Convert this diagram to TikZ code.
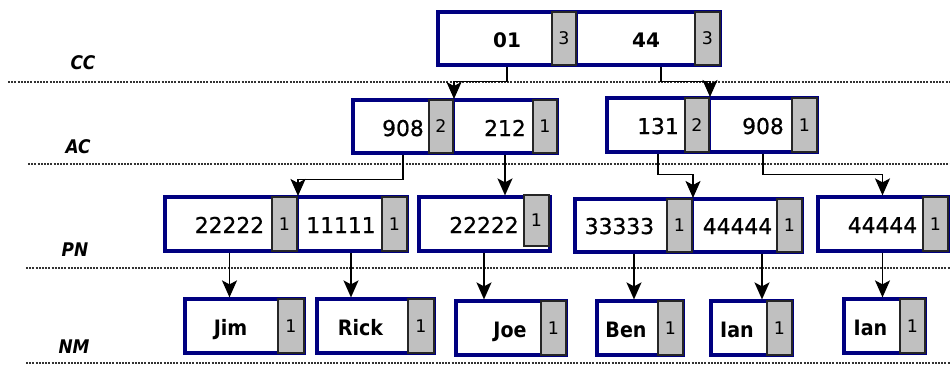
\documentclass[tikz,border=0pt]{standalone}
\usepackage{fontspec}
\usetikzlibrary{arrows.meta,fit}
\newfontfamily\dvs{DejaVu Sans}
\newfontfamily\dvsheavy{DejaVu Sans}[FakeBold=0.8]
\newfontfamily\cond{DejaVu Sans Condensed}
\definecolor{recblue}{RGB}{0,0,128}
\definecolor{cntgray}{RGB}{192,192,192}

\tikzset{
  rec/.style={draw=recblue, line width=1.6pt, fill=white, inner sep=0pt},
  cnt/.style={draw=black!85, fill=cntgray, line width=1pt, inner sep=0pt,
    label={[cntlabel]center:#1}},
  cntlabel/.style={inner sep=0pt, font=\dvs\fontsize{8.7}{10}\selectfont},
  val/.style={anchor=base, inner sep=0pt, font=\dvsheavy\fontsize{10.9}{12}\selectfont},
  topval/.style={anchor=base, inner sep=0pt, font=\dvs\bfseries\fontsize{10}{11}\selectfont},
  person/.style={anchor=base, inner sep=0pt, font=\cond\bfseries\fontsize{10.6}{12}\selectfont},
  lvl/.style={font=\cond\bfseries\itshape\fontsize{9.4}{10}\selectfont},
  level/.style={dash pattern=on 1pt off 0.6pt, line width=0.6pt, black!80},
  link/.style={->, line width=0.8pt}
}

\begin{document}
\begin{tikzpicture}[x=0.5pt, y=-0.5pt, >={Stealth[length=8.5pt,width=7.5pt,inset=2pt]}]
        \useasboundingbox (0,0) rectangle (950,365);

        % levels
        \draw[level] (8,82) -- (950,82);
        \draw[level] (28,164) -- (950,164);
        \draw[level] (26,268) -- (950,268);
        \draw[level] (26,363) -- (950,363);
        \node[lvl] (lcc) at (83,63) {CC};
        \node[lvl] (lac) at (78,147) {AC};
        \node[lvl] (lpn) at (75,250) {PN};
        \node[lvl] (lnm) at (74,347) {NM};

        % CC
        \node[rec, fit={(438,12) (576,65)}] (cc1) {};
        \node[rec, fit={(576,12) (720,65)}] (cc2) {};
        \node[cnt=3, fit={(552,12) (576,65)}] (cc1n) {};
        \node[cnt=3, fit={(695,12) (720,65)}] (cc2n) {};
        \node[topval] (cc1v) at (507,47) {01};
        \node[topval] (cc2v) at (646,47) {44};

        % AC
        \node[rec, fit={(353,100) (453,153)}] (ac1) {};
        \node[rec, fit={(453,100) (557,153)}] (ac2) {};
        \node[rec, fit={(607,98) (709,152)}] (ac3) {};
        \node[rec, fit={(709,98) (817,152)}] (ac4) {};
        \node[cnt=2, fit={(429,100) (453,153)}] (ac1n) {};
        \node[cnt=1, fit={(533,100) (557,153)}] (ac2n) {};
        \node[cnt=2, fit={(685,98) (709,152)}] (ac3n) {};
        \node[cnt=1, fit={(792,98) (817,152)}] (ac4n) {};
        \node[val] (ac1v) at (403,136) {908};
        \node[val] (ac2v) at (505,136) {212};
        \node[val] (ac3v) at (658,134) {131};
        \node[val] (ac4v) at (763,134) {908};

        % PN
        \node[rec, fit={(165,197) (297,251)}] (pn1) {};
        \node[rec, fit={(297,197) (407,251)}] (pn2) {};
        \node[rec, fit={(419,197) (550,251)}] (pn3) {};
        \node[rec, fit={(575,199) (692,252)}] (pn4) {};
        \node[rec, fit={(692,199) (802,252)}] (pn5) {};
        \node[rec, fit={(818,197) (948,251)}] (pn6) {};
        \node[cnt=1, fit={(272,197) (297,251)}] (pn1n) {};
        \node[cnt=1, fit={(382,197) (407,251)}] (pn2n) {};
        \node[cnt=1, fit={(524,195) (549,246)}] (pn3n) {};
        \node[cnt=1, fit={(667,199) (692,252)}] (pn4n) {};
        \node[cnt=1, fit={(777,199) (802,252)}] (pn5n) {};
        \node[cnt=1, fit={(923,197) (948,251)}] (pn6n) {};
        \node[val] (pn1v) at (229.5,233) {22222};
        \node[val] (pn2v) at (341,233) {11111};
        \node[val] (pn3v) at (484,233) {22222};
        \node[val] (pn4v) at (619.5,234) {33333};
        \node[val] (pn5v) at (737.5,234) {44444};
        \node[val] (pn6v) at (882.5,233) {44444};

        % NM
        \node[rec, fit={(185,299) (304,353)}] (nm1) {};
        \node[rec, fit={(317,299) (434,353)}] (nm2) {};
        \node[rec, fit={(456,301) (566,355)}] (nm3) {};
        \node[rec, fit={(597,301) (683,355)}] (nm4) {};
        \node[rec, fit={(711,301) (792,355)}] (nm5) {};
        \node[rec, fit={(844,299) (925,353)}] (nm6) {};
        \node[cnt=1, fit={(278,299) (304,353)}] (nm1n) {};
        \node[cnt=1, fit={(408,299) (434,353)}] (nm2n) {};
        \node[cnt=1, fit={(541,301) (566,355)}] (nm3n) {};
        \node[cnt=1, fit={(658,301) (683,355)}] (nm4n) {};
        \node[cnt=1, fit={(767,301) (792,355)}] (nm5n) {};
        \node[cnt=1, fit={(900,299) (925,353)}] (nm6n) {};
        \node[person] (nm1v) at (230.5,335) {Jim};
        \node[person] (nm2v) at (360.5,335) {Rick};
        \node[person] (nm3v) at (510,337) {Joe};
        \node[person] (nm4v) at (626,337) {Ben};
        \node[person] (nm5v) at (737,337) {Ian};
        \node[person] (nm6v) at (870.5,335) {Ian};

        % links
        \draw[link] (cc1.south -| cc1v) -- ++(0,15) -| (ac1n.north east);
        \draw[link] (cc2.south -| 661,0) -- ++(0,15) -| (ac3n.north east);
        \draw[link] (ac1.south -| ac1v) -- ++(0,25) -| (pn1n.north east);
        \draw[link] (ac2.south -| ac2v) -- (pn3.north -| ac2v);
        \draw[link] (ac3.south -| ac3v) -- ++(0,21) -| (pn4n.north east);
        \draw[link] (ac4.south -| ac4v) -- ++(0,21) -| (pn6.north -| pn6v);

        \draw[link] (pn1.south -| pn1v) -- (nm1.north -| pn1v);
        \draw[link] (pn2.south -| 351,0) -- (nm2.north -| 351,0);
        \draw[link] (pn3.south -| pn3v) -- (nm3.north -| pn3v);
        \draw[link] (pn4.south -| 634,0) -- (nm4.north -| 634,0);
        \draw[link] (pn5.south -| 762,0) -- (nm5.north -| 762,0);
        \draw[link] (pn6.south -| pn6v) -- (nm6.north -| pn6v);
\end{tikzpicture}
\end{document}
